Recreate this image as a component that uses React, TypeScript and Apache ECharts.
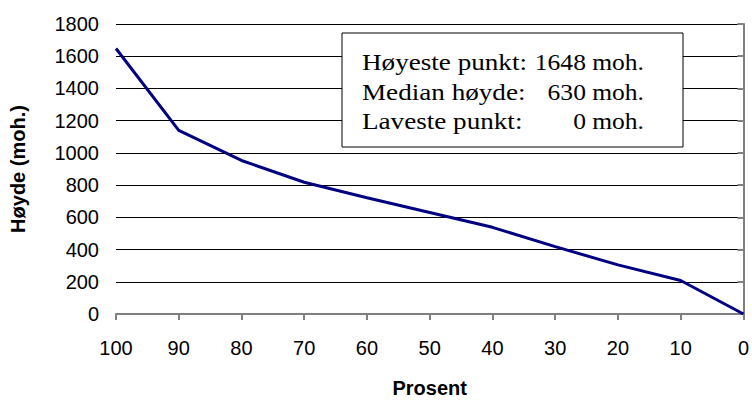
import React, { useEffect, useRef } from "react";
import * as echarts from "echarts";

const percent = [100, 90, 80, 70, 60, 50, 40, 30, 20, 10, 0];
const heights = [1648, 1140, 953, 818, 722, 630, 538, 418, 305, 208, 0];
const boxLabels = ["Høyeste punkt:", "Median høyde:", "Laveste punkt:"];
const boxValues = ["1648 moh.", "630 moh.", "0 moh."];
const xTitle = "Prosent";
const yTitle = "Høyde (moh.)";

export default function App() {
  const ref = useRef<HTMLDivElement>(null);
  useEffect(() => {
    if (!ref.current) return;
    const chart = echarts.init(ref.current, undefined, { renderer: "svg" });
    const lineYs = [62, 92, 121];
    const serif = "'Liberation Serif', 'Times New Roman', serif";
    const sans = "'Liberation Sans', Arial, sans-serif";
    const graphics: any[] = [
      {
        type: "rect",
        shape: { x: 342, y: 33, width: 341, height: 114 },
        style: { fill: "#ffffff", stroke: "#000000", lineWidth: 1 },
        z: 100,
      },
    ];
    boxLabels.forEach((t, i) => {
      graphics.push({
        type: "text",
        x: 362,
        y: lineYs[i],
        scaleX: 1.18,
        z: 101,
        style: {
          text: t,
          fontFamily: serif,
          fontSize: 23,
          fill: "#000",
          verticalAlign: "middle",
          align: "left",
        },
      });
      graphics.push({
        type: "text",
        x: 644,
        y: lineYs[i],
        scaleX: 1.11,
        z: 101,
        style: {
          text: boxValues[i],
          fontFamily: serif,
          fontSize: 23,
          fill: "#000",
          verticalAlign: "middle",
          align: "right",
        },
      });
    });
    chart.setOption({
      animation: false,
      backgroundColor: "#ffffff",
      grid: { left: 110, right: 7, top: 24, bottom: 81, containLabel: false },
      xAxis: {
        type: "value",
        inverse: true,
        min: 0,
        max: 100,
        interval: 10,
        name: xTitle,
        nameLocation: "middle",
        nameGap: 64,
        nameTextStyle: {
          fontFamily: sans,
          fontWeight: "bold",
          fontSize: 20,
          color: "#000",
        },
        axisLine: { show: true, lineStyle: { color: "#808080", width: 2 } },
        axisTick: { show: true, length: 6, lineStyle: { color: "#808080", width: 2 } },
        axisLabel: {
          margin: 24,
          fontFamily: sans,
          fontSize: 20,
          color: "#000",
        },
        splitLine: { show: false },
      },
      yAxis: {
        type: "value",
        min: 0,
        max: 1800,
        interval: 200,
        name: yTitle,
        nameLocation: "middle",
        nameGap: 88,
        nameTextStyle: {
          fontFamily: sans,
          fontWeight: "bold",
          fontSize: 20,
          color: "#000",
        },
        axisLine: { show: true, lineStyle: { color: "#808080", width: 2 } },
        axisTick: { show: true, length: 6, lineStyle: { color: "#808080", width: 2 } },
        axisLabel: {
          margin: 17,
          fontFamily: sans,
          fontSize: 20,
          color: "#000",
          formatter: (v: number) => String(v),
        },
        splitLine: { show: true, lineStyle: { color: "#000", width: 1 } },
      },
      series: [
        {
          type: "line",
          data: percent.map((p, i) => [p, heights[i]]),
          symbol: "none",
          lineStyle: { color: "#000080", width: 3 },
          z: 5,
        },
      ],
      graphic: graphics,
    });
    return () => chart.dispose();
  }, []);
  return (
    <div
      ref={ref}
      style={{ position: "absolute", left: 0, top: 0, width: 752, height: 403 }}
    />
  );
}
